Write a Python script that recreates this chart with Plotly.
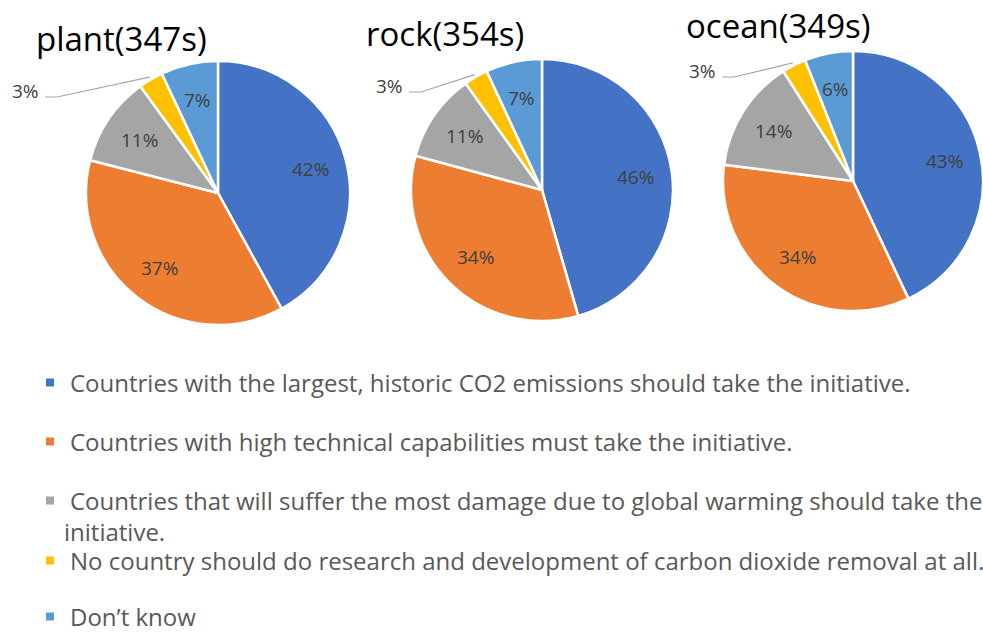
import math
import plotly.graph_objects as go

W, H = 983, 635

# ---------------- data ----------------
categories = [
    "Countries with the largest, historic CO2 emissions should take the initiative.",
    "Countries with high technical capabilities must take the initiative.",
    "Countries that will suffer the most damage due to global warming should take the<br>initiative.",
    "No country should do research and development of carbon dioxide removal at all.",
    "Don’t know",
]
chart_titles = ["plant(347s)", "rock(354s)", "ocean(349s)"]
plant_values = [42, 37, 11, 3, 7]
rock_values = [46, 34, 11, 3, 7]
ocean_values = [43, 34, 14, 3, 6]

# ---------------- styling / layout ----------------
colors = ["#4472C4", "#ED7D31", "#A5A5A5", "#FFC000", "#5B9BD5"]
pie_centers = [(218, 193), (542, 190), (853, 181)]   # pixel centers
pie_radius = [132, 131, 130]
title_pos = [(121, 38), (445, 33), (778, 25)]
small_label_pos = [(25, 91), (389, 86), (702, 71)]
label_frac = 0.72
FONT = "Open Sans"
LABEL_COLOR = "#404040"


def fx(x):
    return x / W


def fy(y):
    return 1 - y / H


fig = go.Figure()
all_values = [plant_values, rock_values, ocean_values]

shapes = []
annotations = []
for k, vals in enumerate(all_values):
    cx, cy = pie_centers[k]
    r = pie_radius[k]
    fig.add_trace(go.Pie(
        values=vals,
        labels=[c.replace("<br>", " ") for c in categories],
        textinfo="none",
        sort=False,
        direction="clockwise",
        rotation=0,
        marker=dict(colors=colors, line=dict(color="white", width=2.5)),
        domain=dict(x=[fx(cx - r), fx(cx + r)], y=[fy(cy + r), fy(cy - r)]),
        showlegend=False,
        hoverinfo="label+value",
    ))
    # title
    tx, ty = title_pos[k]
    annotations.append(dict(
        text=chart_titles[k], x=fx(tx), y=fy(ty), xref="paper", yref="paper",
        showarrow=False, xanchor="center", yanchor="middle",
        font=dict(family=FONT, size=33, color="#000000"),
    ))
    total = sum(vals)
    cum = 0
    for i, v in enumerate(vals):
        mid = (cum + v / 2) / total
        cum += v
        ang = 2 * math.pi * mid
        if i == 3:
            # small slice: outside label with leader line
            ex = cx + r * 1.02 * math.sin(ang)
            ey = cy - r * 1.02 * math.cos(ang)
            lx, ly = small_label_pos[k]
            annotations.append(dict(
                text=f"{v}%", x=fx(lx), y=fy(ly), xref="paper", yref="paper",
                showarrow=False, xanchor="center", yanchor="middle",
                font=dict(family=FONT, size=19, color=LABEL_COLOR),
            ))
            x0, y0 = lx + 20, ly + 6
            x1 = x0 + 12
            shapes.append(dict(
                type="path", xref="paper", yref="paper",
                path=f"M {fx(x0)} {fy(y0)} L {fx(x1)} {fy(y0)} L {fx(ex)} {fy(ey)}",
                line=dict(color="#A6A6A6", width=1.2),
            ))
        else:
            px_ = cx + r * label_frac * math.sin(ang)
            py_ = cy - r * label_frac * math.cos(ang)
            annotations.append(dict(
                text=f"{v}%", x=fx(px_), y=fy(py_), xref="paper", yref="paper",
                showarrow=False, xanchor="center", yanchor="middle",
                font=dict(family=FONT, size=19, color=LABEL_COLOR),
            ))

# legend entries (dummy traces, one legend each)
legend_rows = [383, 442, 501, 561, 617]
legend_font = dict(family=FONT, size=24, color="#595959")
layout_legends = {}
for i, cat in enumerate(categories):
    parts = cat.split("<br>")
    lname = "legend" if i == 0 else f"legend{i + 1}"
    fig.add_trace(go.Scatter(
        x=[None], y=[None], mode="markers", name=parts[0],
        marker=dict(symbol="square", size=8, color=colors[i]),
        legend=lname, showlegend=True, hoverinfo="skip",
    ))
    layout_legends[lname] = dict(
        x=fx(30), y=fy(legend_rows[i]), xanchor="left", yanchor="middle",
        font=legend_font, bgcolor="rgba(0,0,0,0)", borderwidth=0,
    )
    # continuation line(s) of a wrapped legend entry
    for j, extra in enumerate(parts[1:], start=1):
        annotations.append(dict(
            text=extra, x=fx(62), y=fy(legend_rows[i] + 30 * j),
            xref="paper", yref="paper", showarrow=False,
            xanchor="left", yanchor="middle", font=legend_font,
        ))

fig.update_layout(
    width=W, height=H,
    margin=dict(l=0, r=0, t=0, b=0, autoexpand=False),
    paper_bgcolor="white", plot_bgcolor="white",
    xaxis=dict(visible=False), yaxis=dict(visible=False),
    shapes=shapes, annotations=annotations,
    **layout_legends,
)

fig.write_html("out.html")
